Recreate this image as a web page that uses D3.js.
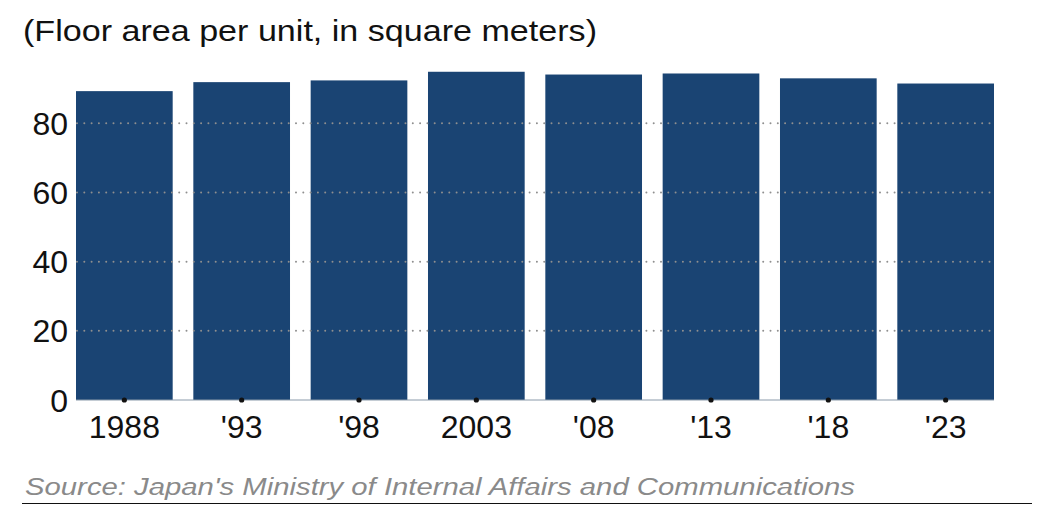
<!DOCTYPE html>
<html><head><meta charset="utf-8">
<script src="https://cdn.jsdelivr.net/npm/d3@7"></script>
<style>body{margin:0;background:#fff;}svg{display:block;font-family:"Liberation Sans",Arial,sans-serif;}</style>
</head><body>
<svg id="c" width="1048" height="513"></svg>
<script>
const categories = ["1988", "'93", "'98", "2003", "'08", "'13", "'18", "'23"];
const values = [89.3, 91.9, 92.4, 94.9, 94.1, 94.4, 93.0, 91.5];
const yTicks = [0, 20, 40, 60, 80];
const title = "(Floor area per unit, in square meters)";
const source = "Source: Japan's Ministry of Internal Affairs and Communications";

const svg = d3.select("#c");
const x = d3.scaleBand().domain(categories).range([76, 994]).paddingInner(0.176).paddingOuter(0);
const y = d3.scaleLinear().domain([0, 80]).range([400, 123.3]);

svg.append("text").attr("x", 23).attr("y", 41).attr("font-size", 30).attr("fill", "#111")
  .attr("textLength", 574).attr("lengthAdjust", "spacingAndGlyphs").text(title);

svg.append("g").selectAll("rect").data(values).join("rect")
  .attr("x", (d, i) => x(categories[i])).attr("width", x.bandwidth())
  .attr("y", d => y(d)).attr("height", d => y(0) - y(d)).attr("fill", "#1a4473");

// gridlines
svg.append("g").selectAll("line").data(yTicks.filter(t => t > 0)).join("line")
  .attr("x1", 77).attr("x2", 994).attr("y1", d => y(d)).attr("y2", d => y(d))
  .attr("stroke", "#8f8f8f").attr("stroke-width", 2).attr("stroke-dasharray", "0,7.3").attr("stroke-linecap", "round");

// baseline
svg.append("line").attr("x1", 76).attr("x2", 994).attr("y1", y(0)).attr("y2", y(0)).attr("stroke", "#8a9aaa").attr("stroke-width", 1);

// y labels
svg.append("g").selectAll("text").data(yTicks).join("text")
  .attr("x", 68).attr("y", d => y(d) + 11.5).attr("text-anchor", "end").attr("font-size", 32).attr("fill", "#111").text(d => d);

// x tick dots
svg.append("g").selectAll("circle").data(categories).join("circle")
  .attr("cx", d => x(d) + x.bandwidth() / 2).attr("cy", y(0)).attr("r", 2.6).attr("fill", "#111");

// x labels
svg.append("g").selectAll("text").data(categories).join("text")
  .attr("x", d => x(d) + x.bandwidth() / 2).attr("y", 438).attr("text-anchor", "middle").attr("font-size", 32).attr("fill", "#111").text(d => d);

svg.append("text").attr("x", 25).attr("y", 495).attr("font-size", 24.5).attr("font-style", "italic").attr("fill", "#8a8a8a")
  .attr("textLength", 830).attr("lengthAdjust", "spacingAndGlyphs").text(source);
svg.append("line").attr("x1", 22).attr("x2", 1032).attr("y1", 503.5).attr("y2", 503.5).attr("stroke", "#111").attr("stroke-width", 1);
</script>
</body></html>
